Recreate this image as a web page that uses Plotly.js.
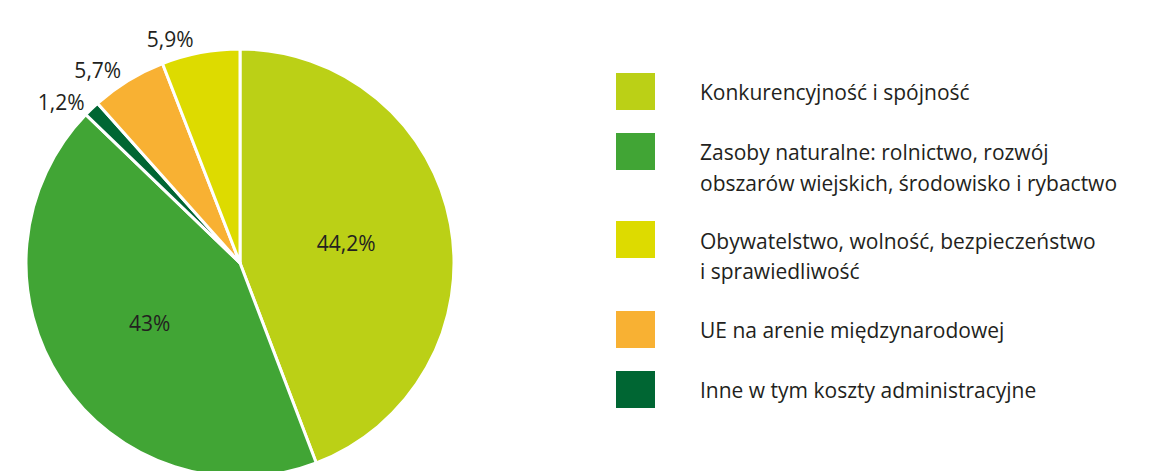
<!DOCTYPE html>
<html>
<head>
<meta charset="utf-8">
<script src="https://cdn.plot.ly/plotly-3.0.1.min.js"></script>
<style>
html,body{margin:0;padding:0;overflow:hidden;background:#fff;}
#chart{width:1150px;height:480px;}
</style>
</head>
<body>
<div id="chart"></div>
<script>
// Slice data, in clockwise order from 12 o'clock
const categories = [
  "Konkurencyjność i spójność",
  "Zasoby naturalne: rolnictwo, rozwój obszarów wiejskich, środowisko i rybactwo",
  "Inne w tym koszty administracyjne",
  "UE na arenie międzynarodowej",
  "Obywatelstwo, wolność, bezpieczeństwo i sprawiedliwość"
];
const shares = [44.2, 43, 1.2, 5.7, 5.9];
const colors = ["#BBD016", "#41A535", "#006633", "#F8B133", "#DDDB00"];
const labelPositions = ["inside", "inside", "outside", "outside", "outside"];

// Legend (order as shown on the right)
const legendOrder = [0, 1, 4, 3, 2];
const legendLines = [
  ["Konkurencyjność i spójność"],
  ["Zasoby naturalne: rolnictwo, rozwój", "obszarów wiejskich, środowisko i rybactwo"],
  ["Obywatelstwo, wolność, bezpieczeństwo", "i sprawiedliwość"],
  ["UE na arenie międzynarodowej"],
  ["Inne w tym koszty administracyjne"]
];

const W = 1150, H = 480;
const px = x => x / W;
const py = y => 1 - y / H;

const textLabels = shares.map(v => String(v).replace('.', ',') + '%');

const trace = {
  type: 'pie',
  labels: categories,
  values: shares,
  text: textLabels,
  textinfo: 'text',
  sort: false,
  direction: 'clockwise',
  rotation: 0,
  textposition: labelPositions,
  insidetextorientation: 'horizontal',
  marker: {colors: colors, line: {color: '#ffffff', width: 3}},
  textfont: {family: 'Open Sans, sans-serif', size: 21, color: '#231f20'},
  insidetextfont: {family: 'Open Sans, sans-serif', size: 21, color: '#231f20'},
  outsidetextfont: {family: 'Open Sans, sans-serif', size: 21, color: '#231f20'},
  domain: {x: [px(240 - 214), px(240 + 214)], y: [py(263 + 214), py(263 - 214)]},
  showlegend: false,
  hoverinfo: 'label+text'
};

const boxTops = [73, 133, 221, 311, 371];
const lineY = [[92], [152, 183], [241, 271], [330], [390]];
const shapes = [];
const annotations = [];
legendOrder.forEach((idx, i) => {
  shapes.push({
    type: 'rect', xref: 'paper', yref: 'paper',
    x0: px(616), x1: px(655), y0: py(boxTops[i] + 37), y1: py(boxTops[i]),
    fillcolor: colors[idx], line: {width: 0}
  });
  legendLines[i].forEach((ln, j) => {
    annotations.push({
      xref: 'paper', yref: 'paper', x: px(698), y: py(lineY[i][j]),
      xanchor: 'left', yanchor: 'middle', showarrow: false,
      text: ln, font: {family: 'Open Sans, sans-serif', size: 21, color: '#231f20'}
    });
  });
});

const layout = {
  width: W, height: H,
  margin: {l: 0, r: 0, t: 0, b: 0},
  paper_bgcolor: '#ffffff',
  showlegend: false,
  shapes: shapes,
  annotations: annotations
};

Plotly.newPlot('chart', [trace], layout, {displayModeBar: false, staticPlot: true});
</script>
</body>
</html>
